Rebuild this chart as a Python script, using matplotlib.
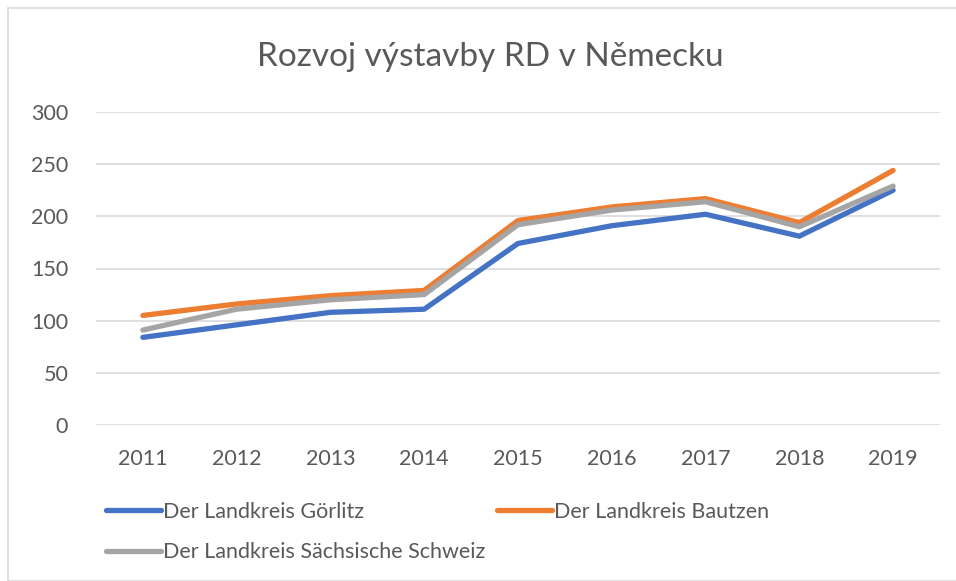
import matplotlib
matplotlib.use("Agg")
import matplotlib.pyplot as plt
from matplotlib.patches import Rectangle

plt.rcParams['font.family'] = ['Lato', 'DejaVu Sans']

roky = ["2011", "2012", "2013", "2014", "2015", "2016", "2017", "2018", "2019"]
gorlitz = [84, 96, 108, 111, 174, 191, 202, 181, 225]
bautzen = [105, 116, 124, 129, 196, 209, 217, 194, 244]
schweiz = [91, 111, 120, 125, 192, 206, 214, 190, 229]

nazvy = ["Der Landkreis Görlitz", "Der Landkreis Bautzen",
         "Der Landkreis Sächsische Schweiz"]
barvy = ["#4472C4", "#ED7D31", "#A5A5A5"]
sede = "#595959"

fig = plt.figure(figsize=(9.56, 5.81), dpi=100)
ax = fig.add_axes([96 / 956, 156 / 581, 844 / 956, 313 / 581])

x = list(range(len(roky)))
car = []
for data, nazev, barva in zip([gorlitz, bautzen, schweiz], nazvy, barvy):
    l, = ax.plot(x, data, color=barva, lw=3.8, label=nazev,
                 solid_capstyle="round", solid_joinstyle="round")
    car.append(l)

ax.set_xlim(-0.5, len(roky) - 0.5)
ax.set_ylim(0, 300)
ax.set_yticks(range(0, 301, 50))
ax.set_xticks(x)
ax.set_xticklabels(roky)
ax.grid(axis="y", color="#D9D9D9", lw=1.2)
ax.set_axisbelow(True)
for s in ax.spines.values():
    s.set_visible(False)
ax.tick_params(length=0, labelsize=15.5, colors=sede)
ax.tick_params(axis="x", pad=17)
ax.tick_params(axis="y", pad=20)

fig.text(490 / 956, 1 - 57 / 581, "Rozvoj výstavby RD v Německu",
         ha="center", va="center", fontsize=24, color=sede)

# poradi pro dva sloupce po radcich
leg = fig.legend([car[0], car[2], car[1]], [nazvy[0], nazvy[2], nazvy[1]],
                 ncol=2, loc="upper left", bbox_to_anchor=(106 / 956, 1 - 502 / 581),
                 frameon=False, fontsize=15.5, handlelength=2.55, handletextpad=0.1,
                 columnspacing=0.55, labelspacing=0.95, labelcolor=sede,
                 borderpad=0, borderaxespad=0)

fig.patches.append(Rectangle((8 / 956, 0), 1, 1 - 8 / 581, transform=fig.transFigure,
                             fill=False, edgecolor="#D9D9D9", lw=1.2))

fig.savefig("out.png", dpi=100)
